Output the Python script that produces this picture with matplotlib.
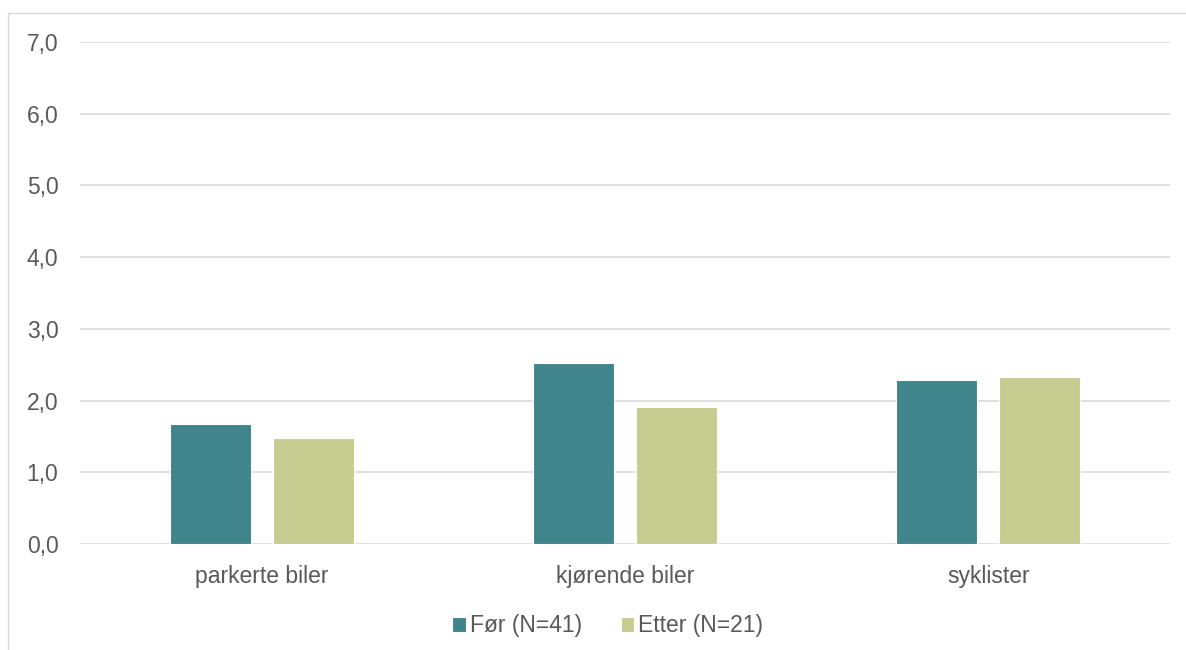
import matplotlib.pyplot as plt
import numpy as np
from matplotlib.patches import Rectangle

plt.rcParams['font.family'] = ['Liberation Sans', 'DejaVu Sans']

categories = ['parkerte biler', 'kjørende biler', 'syklister']
for_vals = [1.67, 2.52, 2.29]
etter_vals = [1.48, 1.91, 2.33]
series_names = ['Før (N=41)', 'Etter (N=21)']
yticks = [0, 1, 2, 3, 4, 5, 6, 7]

c_for = '#3F858B'
c_etter = '#C6CC8F'
txt = '#595959'

fig = plt.figure(figsize=(11.86, 6.5), dpi=100)
# chart area border (only top and left visible in the reference)
fig.add_artist(Rectangle((8 / 1186, -0.1), 1.2, 1 - 13 / 650 + 0.1, transform=fig.transFigure,
                         fill=False, edgecolor='#D9D9D9', lw=1))

ax = fig.add_axes([80 / 1186, 1 - 544 / 650, 1090 / 1186, 502 / 650])
x = np.arange(len(categories))
w = 0.223
off = 0.142
ax.bar(x - off, for_vals, w, color=c_for, edgecolor='white', lw=0.8, label=series_names[0], zorder=3)
ax.bar(x + off, etter_vals, w, color=c_etter, edgecolor='white', lw=0.8, label=series_names[1], zorder=3)

ax.set_xlim(-0.5, 2.5)
ax.set_ylim(0, 7)
ax.set_yticks(yticks)
ax.set_yticklabels([f'{v:.1f}'.replace('.', ',') for v in yticks])
ax.set_xticks(x)
ax.set_xticklabels(categories)
ax.grid(axis='y', color='#D9D9D9', lw=1.2, zorder=0)
for s in ax.spines.values():
    s.set_visible(False)
ax.tick_params(axis='both', length=0, labelsize=16.5, colors=txt)
ax.tick_params(axis='y', pad=15.5)
ax.tick_params(axis='x', pad=15)

ax.legend(loc='center', bbox_to_anchor=(0.484, -0.163), ncol=2, frameon=False,
          fontsize=16.5, labelcolor=txt, handlelength=0.6, handleheight=0.6,
          handletextpad=0.15, columnspacing=1.7)

fig.savefig('out.png', dpi=100)
